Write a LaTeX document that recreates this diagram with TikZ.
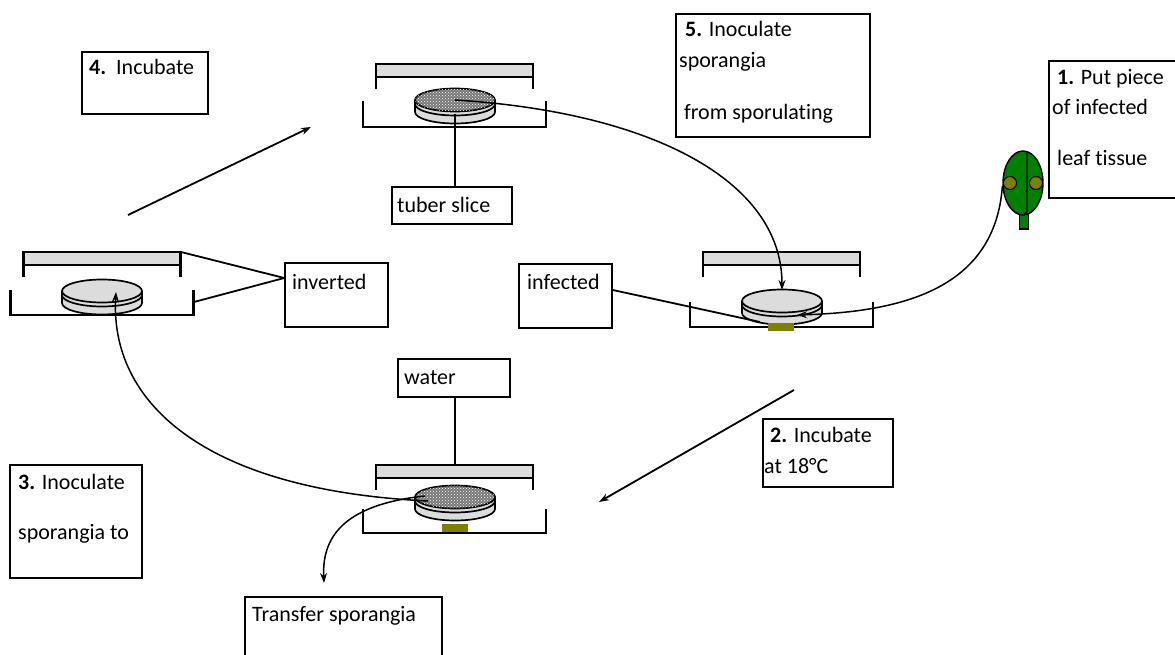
\documentclass[tikz,border=0pt]{standalone}
\usepackage{fontspec}
\setmainfont{Carlito}[Ligatures=NoCommon]
\usetikzlibrary{arrows.meta,patterns,shapes.geometric}
\definecolor{lidgray}{RGB}{220,220,220}
\definecolor{leafgreen}{RGB}{0,128,0}
\definecolor{spotcol}{RGB}{128,128,0}
\definecolor{hatchbg}{RGB}{120,120,120}
% lid: cx, top y
\newcommand\dlid[2]{%
  \draw[dishline, fill=lidgray] ({#1-78.5},#2) rectangle ({#1+78.5},{#2+13});
  \draw[dishline] ({#1-78.5},{#2+13}) -- ({#1-78.5},{#2+25});
  \draw[dishline] ({#1+78.5},{#2+13}) -- ({#1+78.5},{#2+25});}
% base: cx, wall top y, bottom y
\newcommand\dbase[3]{%
  \draw[dishline] ({#1-91.5},#2) -- ({#1-91.5},#3) -- ({#1+91.5},#3) -- ({#1+91.5},#2);}
% slice: cx, top y, top fill style
\newcommand\dslice[3]{%
  \draw[sliceline, fill=lidgray] (#1,{#2+12}) ellipse [x radius=40, y radius=11.5];
  \fill[lidgray] ({#1-40},#2) rectangle ({#1+40},{#2+12});
  \draw[sliceline] ({#1-40},#2) -- ({#1-40},{#2+12});
  \draw[sliceline] ({#1+40},#2) -- ({#1+40},{#2+12});
  \draw[sliceline] ({#1-40},{#2+4}) arc [start angle=180, end angle=0, x radius=40, y radius=11.5];
  \draw[sliceline, #3] (#1,#2) ellipse [x radius=40, y radius=11.5];}
\begin{document}
\begin{tikzpicture}[x=1pt,y=-1pt,
  box/.style={draw, line width=1.5pt, inner sep=0pt},
  txt/.style={anchor=base west, inner sep=0pt, font=\fontsize{22}{26}\selectfont},
  dishline/.style={line width=2.2pt},
  sliceline/.style={line width=1.7pt},
  conn/.style={line width=1.8pt},
  curv/.style={line width=1.5pt},
  tip/.style={-{Stealth[length=10pt,width=7pt]}},
  plainfill/.style={fill=lidgray},
  hatchfill/.style={fill=hatchbg, postaction={pattern=crosshatch dots, pattern color=white}}]
\useasboundingbox (0,0) rectangle (1175,655);

% ---- boxes ----
\node[box, minimum width=126pt, minimum height=62pt] (b4) at (145,83) {};
\node[txt] (t4) at (89,75) {\textbf{4.}\ \ Incubate};

\node[box, minimum width=194pt, minimum height=123pt] (b5) at (773,75.5) {};
\node[txt] (t5a) at (685,37) {\textbf{5.} Inoculate};
\node[txt] (t5b) at (679,68) {sporangia};
\node[txt] (t5c) at (684,120) {from sporulating};

\node[box, minimum width=131pt, minimum height=137pt] (b1) at (1114.5,129.5) {};
\node[txt] (t1a) at (1057,85) {\textbf{1.} Put piece};
\node[txt] (t1b) at (1052,115) {of infected};
\node[txt] (t1c) at (1057,166) {leaf tissue};

\node[box, minimum width=130pt, minimum height=68pt] (b2) at (828,453) {};
\node[txt] (t2a) at (770,442) {\textbf{2.} Incubate};
\node[txt] (t2b) at (764,473) {at 18°C};

\node[box, minimum width=132pt, minimum height=113pt] (b3) at (76,521.5) {};
\node[txt] (t3a) at (18,489) {\textbf{3.} Inoculate};
\node[txt] (t3b) at (18,539) {sporangia to};

\node[box, minimum width=197pt, minimum height=73pt] (bT) at (343.5,633.5) {};
\node[txt] (tT) at (252,621) {Transfer sporangia};

\node[box, minimum width=93pt, minimum height=64pt] (binf) at (565.5,296) {};
\node[txt] (tinf) at (527,289) {infected};

\node[box, minimum width=103pt, minimum height=64pt] (binv) at (336.5,295) {};
\node[txt] (tinv) at (292,289) {inverted};

\node[box, minimum width=120pt, minimum height=37pt] (btub) at (452,205.5) {};
\node[txt] (ttub) at (397,213) {tuber slice};

\node[box, minimum width=112pt, minimum height=38pt] (bwat) at (454,378) {};
\node[txt] (twat) at (404,384) {water};

% ---- dishes ----
% top dish
\dlid{454.5}{64}
\dbase{454.5}{101}{127}
\dslice{455}{100}{hatchfill}
\coordinate (sTop) at (455,100);
\coordinate (sTopLow) at (455,114);
% infected dish (right)
\dlid{781.5}{252}
\dbase{781.5}{302}{327}
\dslice{782}{301}{plainfill}
\fill[spotcol] (768,323) rectangle (794,331);
\coordinate (sInfTop) at (782,290);
\coordinate (sInfMid) at (797,315);
\coordinate (sInfLow) at (760,322);
% left dish
\dlid{102}{252}
\dbase{102}{290}{315}
\dslice{102}{291}{plainfill}
\coordinate (lidL) at (181,252);
\coordinate (baseL) at (194,302);
\coordinate (sLeft) at (116,292);
% bottom dish
\dlid{454.5}{465}
\dbase{454.5}{509}{533}
\dslice{455}{497}{hatchfill}
\fill[spotcol] (442,524) rectangle (468,532);
\coordinate (lidB) at (455,465);
\coordinate (sBotA) at (428,501);
\coordinate (sBotB) at (425,496);

% ---- leaf ----
\draw[line width=1.4pt, fill=leafgreen] (1019.5,212) rectangle (1028.5,229);
\node[ellipse, draw, line width=1.4pt, fill=leafgreen, minimum width=40pt, minimum height=64pt, inner sep=0pt] (leaf) at (1023,183) {};
\draw[line width=1.2pt] (1027,152) -- (1027,212) -- (1024,214);
\draw[line width=1pt, fill=spotcol] (1010,183) circle [radius=6.5];
\draw[line width=1pt, fill=spotcol] (1036,183) circle [radius=6.5];

% ---- connectors ----
\draw[conn] (sTopLow) -- (sTopLow |- btub.north);
\draw[conn] (bwat.south -| lidB) -- (lidB);
\draw[conn] ([yshift=6pt]binf.east) -- (sInfLow);
\draw[conn] (lidL) -- ([yshift=17pt]binv.west);
\draw[conn] (baseL) -- ([yshift=17pt]binv.west);

\coordinate (a4s) at (128,215);
\coordinate (a4e) at (311,127);
\draw[conn, tip] (a4s) -- (a4e);
\coordinate (a2s) at (794,390);
\coordinate (a2e) at (599,502);
\draw[conn, tip] (a2s) -- (a2e);

\draw[curv, tip] (leaf.188) .. controls (995,290) and (900,312) .. (sInfMid);
\draw[curv, tip] (sTop) .. controls (650,112) and (782,180) .. (sInfTop);
\draw[curv, tip] (sBotA) .. controls (200,490) and (110,400) .. (sLeft);
\coordinate (aTe) at (324,583);
\draw[curv, tip] (sBotB) .. controls (340,505) and (322,540) .. (aTe);
\end{tikzpicture}
\end{document}
